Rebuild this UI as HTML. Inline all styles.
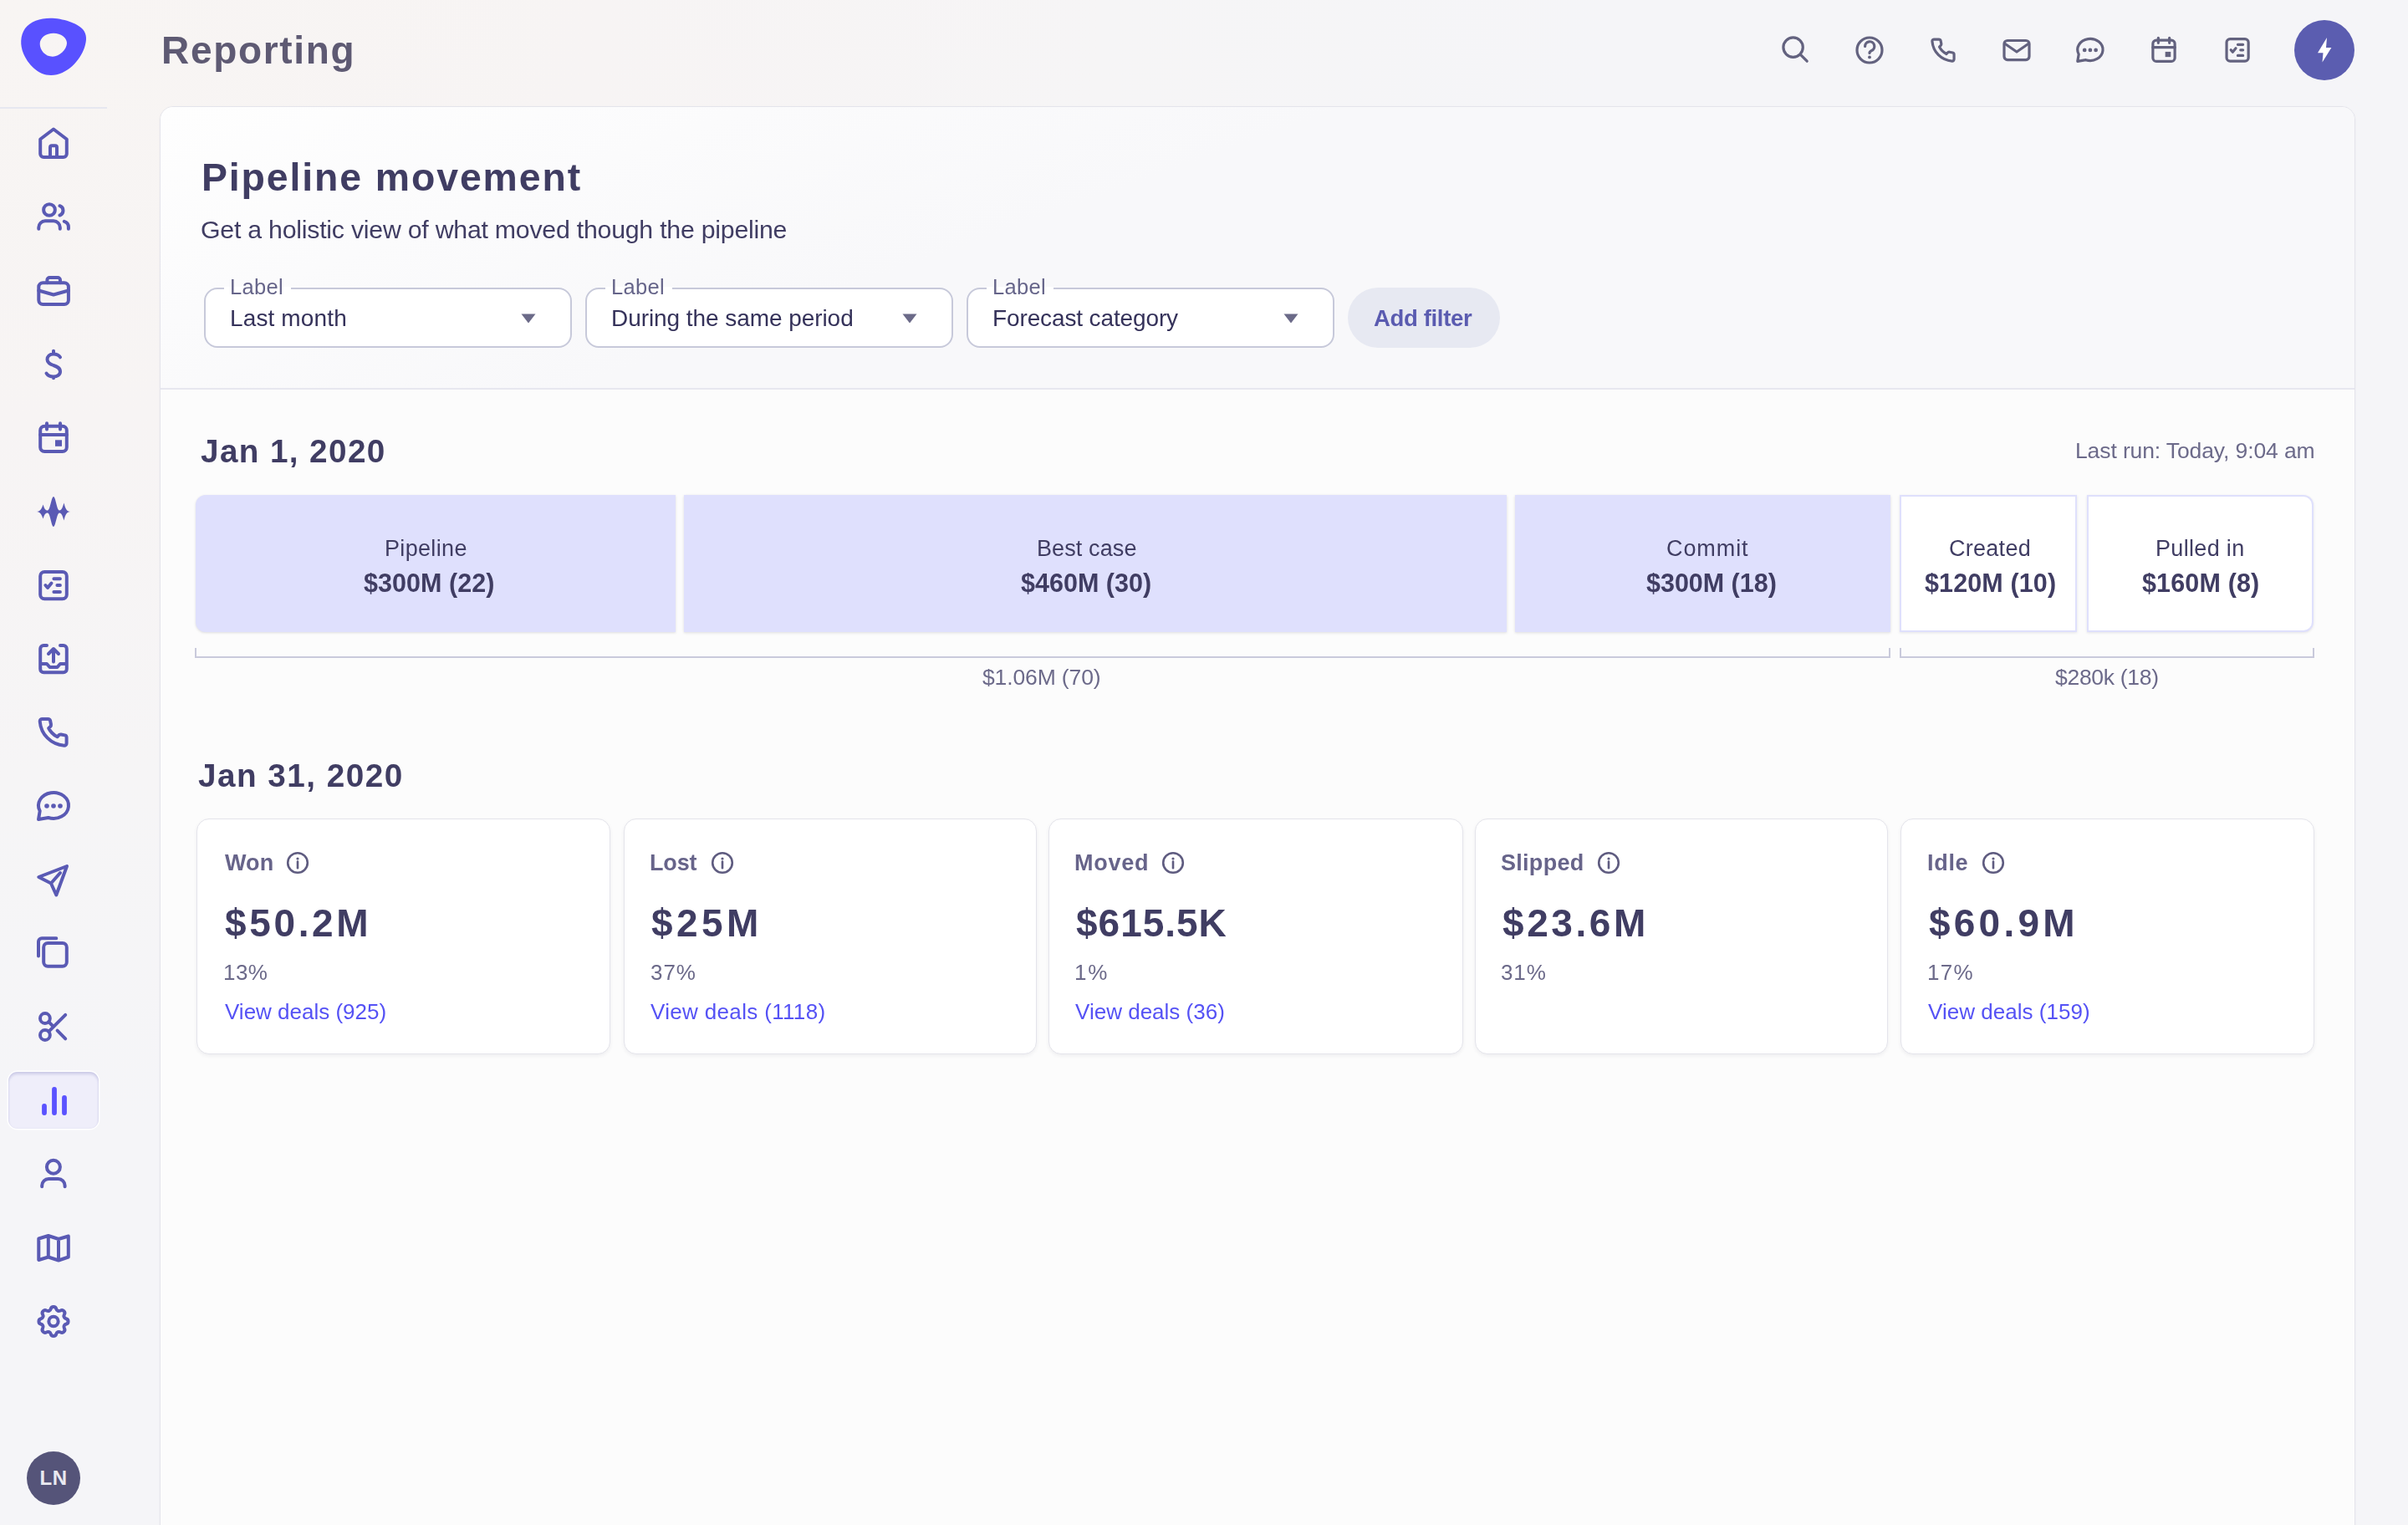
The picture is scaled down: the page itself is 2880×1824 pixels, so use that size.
<!DOCTYPE html>
<html><head><meta charset="utf-8"><style>
*{box-sizing:border-box;margin:0;padding:0}
html,body{width:2880px;height:1824px;overflow:hidden}
body{position:relative;font-family:"Liberation Sans", sans-serif;background:radial-gradient(ellipse 2400px 1700px at 0px 0px,#f8f5f3 0%,#f7f4f4 30%,#f6f5f6 55%,#f5f5f8 80%);}
.t{position:absolute;white-space:nowrap;will-change:transform}
#card{position:absolute;left:191px;top:127px;width:2626px;height:1760px;border-radius:16px;background:#fcfcfc;border:1px solid #e4e4eb;overflow:hidden;box-shadow:0 1px 3px rgba(40,40,80,.04)}
#hdr{position:absolute;left:0;top:0;right:0;height:338px;background:linear-gradient(160deg,#fefefe 0%,#f8f8fa 40%,#f8f8fa 100%);border-bottom:2px solid #e7e7ef}
.fbox{position:absolute;top:344px;width:440px;height:72px;border:2px solid #c7c9da;border-radius:16px;background:#fff}
.lgap{position:absolute;top:343px;width:80px;height:4px;background:#fff}
.tri{position:absolute}
#addbtn{position:absolute;left:1612px;top:344px;width:182px;height:72px;border-radius:36px;background:#e7e9f2}
.fb{position:absolute;top:592px;height:164px;background:#dfe0fd;box-shadow:0 1px 3px rgba(60,60,70,.16)}
.ob{position:absolute;top:592px;height:164px;background:#fff;border:2px solid #dfe0fc;box-shadow:0 1px 3px rgba(60,60,70,.12)}
.brk{position:absolute;height:12px;border:2px solid #c9cadb;border-top:none}
.sc{position:absolute;top:979px;height:282px;background:#fff;border:1px solid #e4e4eb;border-radius:15px;box-shadow:0 2px 4px rgba(50,50,80,.07)}
.ii{position:absolute}
#divl{position:absolute;left:0;top:128px;width:128px;height:2px;background:#e6e7f0}
#act{position:absolute;left:10px;top:1282px;width:108px;height:68px;border-radius:11px;background:#efeefa;box-shadow:inset 0 3px 3px rgba(90,90,170,.2),inset 0 0 2px rgba(90,90,170,.12),0 0 0 1.5px #fff}
#ln{position:absolute;left:32px;top:1736px;width:64px;height:64px;border-radius:50%;background:#555479;color:#e9e9f0;font-weight:700;font-size:24px;line-height:64px;text-align:center;letter-spacing:0.5px}
#bolt{position:absolute;left:2744px;top:24px;width:72px;height:72px;border-radius:50%;background:#5b5db0}
</style></head><body>
<div id="divl"></div>
<div id="card"><div id="hdr"></div></div>
<div class="fbox" style="left:244px"></div>
<div class="lgap" style="left:268px"></div>
<svg class="tri" style="left:622.6px;top:375px" width="18" height="12" viewBox="0 0 18 12"><path d="M0.5 0.5H17.5L9 11.5Z" fill="#6b6a88"/></svg>
<div class="fbox" style="left:700px"></div>
<div class="lgap" style="left:724px"></div>
<svg class="tri" style="left:1078.6px;top:375px" width="18" height="12" viewBox="0 0 18 12"><path d="M0.5 0.5H17.5L9 11.5Z" fill="#6b6a88"/></svg>
<div class="fbox" style="left:1156px"></div>
<div class="lgap" style="left:1180px"></div>
<svg class="tri" style="left:1534.6px;top:375px" width="18" height="12" viewBox="0 0 18 12"><path d="M0.5 0.5H17.5L9 11.5Z" fill="#6b6a88"/></svg>

<div id="addbtn"></div>
<div class="fb" style="left:234px;width:574px;border-radius:12px 0 0 12px"></div>
<div class="fb" style="left:818px;width:984px;border-radius:0"></div>
<div class="fb" style="left:1812px;width:448.5px;border-radius:0"></div>
<div class="ob" style="left:2272px;width:212px;border-radius:0"></div>
<div class="ob" style="left:2496px;width:271px;border-radius:0 12px 12px 0"></div>

<div class="brk" style="left:233px;top:775px;width:2027.5px"></div>
<div class="brk" style="left:2272px;top:775px;width:496px"></div>
<div class="sc" style="left:235.0px;width:495.3px"></div>
<svg class="ii" style="left:342.2px;top:1018px" width="28" height="28" viewBox="0 0 28 28"><circle cx="14" cy="14" r="11.8" fill="none" stroke="#5f5c80" stroke-width="2.6"/><circle cx="14" cy="9" r="1.6" fill="#5f5c80"/><path d="M14 12.6V20.2" stroke="#5f5c80" stroke-width="2.6" stroke-linecap="round"/></svg>
<div class="sc" style="left:745.7px;width:494.6px"></div>
<svg class="ii" style="left:850.1px;top:1018px" width="28" height="28" viewBox="0 0 28 28"><circle cx="14" cy="14" r="11.8" fill="none" stroke="#5f5c80" stroke-width="2.6"/><circle cx="14" cy="9" r="1.6" fill="#5f5c80"/><path d="M14 12.6V20.2" stroke="#5f5c80" stroke-width="2.6" stroke-linecap="round"/></svg>
<div class="sc" style="left:1253.5px;width:496.6px"></div>
<svg class="ii" style="left:1388.6px;top:1018px" width="28" height="28" viewBox="0 0 28 28"><circle cx="14" cy="14" r="11.8" fill="none" stroke="#5f5c80" stroke-width="2.6"/><circle cx="14" cy="9" r="1.6" fill="#5f5c80"/><path d="M14 12.6V20.2" stroke="#5f5c80" stroke-width="2.6" stroke-linecap="round"/></svg>
<div class="sc" style="left:1763.5px;width:494.7px"></div>
<svg class="ii" style="left:1909.8px;top:1018px" width="28" height="28" viewBox="0 0 28 28"><circle cx="14" cy="14" r="11.8" fill="none" stroke="#5f5c80" stroke-width="2.6"/><circle cx="14" cy="9" r="1.6" fill="#5f5c80"/><path d="M14 12.6V20.2" stroke="#5f5c80" stroke-width="2.6" stroke-linecap="round"/></svg>
<div class="sc" style="left:2273.2px;width:494.8px"></div>
<svg class="ii" style="left:2370.2px;top:1018px" width="28" height="28" viewBox="0 0 28 28"><circle cx="14" cy="14" r="11.8" fill="none" stroke="#5f5c80" stroke-width="2.6"/><circle cx="14" cy="9" r="1.6" fill="#5f5c80"/><path d="M14 12.6V20.2" stroke="#5f5c80" stroke-width="2.6" stroke-linecap="round"/></svg>

<div id="act"></div>
<div id="ln">LN</div>
<div id="bolt"></div>
<svg style="position:absolute;left:0;top:0" width="2880" height="1824" viewBox="0 0 2880 1824">
<path fill="#5951ff" fill-rule="evenodd" d="M60,21.8 C75,21.8 93,28 99,35 C104,41 104,48 101,57 C96,72 80,90 61,90 C45,90 33,76 28,64 C24,54 24,43 30,34 C36,26 48,21.8 60,21.8 Z M64,39.7 C73,39.7 80,45 80,51.5 C80,59 71,67.7 63,67.7 C54,67.7 47.7,60 47.7,52.5 C47.7,45 55,39.7 64,39.7 Z"/>
<g fill="none" stroke="#5a5ab4" stroke-width="4" stroke-linecap="round" stroke-linejoin="round">
<path d="M52.2,188 H75.8 A4,4 0 0 0 79.8,184 V166.5 L64,154.5 L48.2,166.5 V184 A4,4 0 0 0 52.2,188 Z M60,188 V176.2 A2,2 0 0 1 62,174.2 H66 A2,2 0 0 1 68,176.2 V188"/>
<circle cx="59" cy="251" r="6.85"/>
<path d="M46.3,273.7 V272 A7.7,7.7 0 0 1 54,264.3 H64.1 A7.7,7.7 0 0 1 71.8,272 V273.7 M71.5,246.2 A6,6 0 0 1 71.5,257.5 M76.8,264.8 A7,7 0 0 1 81.9,271.5 V273.7"/>
<rect x="46.3" y="338.2" width="35.6" height="25.8" rx="5"/>
<path d="M46.3,347.5 L64,352.5 L81.9,347.5 M56.4,338.2 V335 A3,3 0 0 1 59.4,332 H69 A3,3 0 0 1 72,335 V338.2"/>
<path d="M64,419.8 V423.5 M64,450.5 V452.3 M72,427.3 C70.5,424.8 67.5,423.5 64,423.5 C59,423.5 56.5,426.5 56.5,430 C56.5,434 60,435.5 64,437 C68.5,438.5 72,440 72,444.5 C72,448 68.5,450.5 64,450.5 C60,450.5 57,449 55.5,446.5"/>
<rect x="48.2" y="509.8" width="31.6" height="30.2" rx="5"/><path d="M48.2,520 H79.8 M56,506.3 V513.6 M72,506.3 V513.6"/><rect x="66" y="526.3" width="8" height="7.5" fill="#5a5ab4" stroke="none"/>
<rect x="48.2" y="684" width="31.6" height="32.2" rx="5"/><path d="M64.4,692.2 H71.9 M68.4,700 H71.9 M64.4,708 H71.9 M54.4,700 L57,703 L61.5,697.5"/>
<path d="M56,772 H52.2 A4,4 0 0 0 48.2,776 V800.2 A4,4 0 0 0 52.2,804.2 H75.8 A4,4 0 0 0 79.8,800.2 V776 A4,4 0 0 0 75.8,772 H72 M48.2,794 H56 L59.5,798 H68.5 L72,794 H79.8 M64,777 V791.5 M58,782 L64,776 L70,782"/>
<path d="M50.5,860 H57.5 C58.8,860 59.8,860.8 60.1,862 L61,866.5 C61.2,867.7 60.8,868.7 59.9,869.4 L58.2,871 C60.5,875.5 64,879 68.5,881.3 L70.1,879.6 C70.8,878.7 71.8,878.3 73,878.5 L77.6,879.4 C78.8,879.7 79.6,880.7 79.6,882 V889 C79.6,890.6 78.3,891.8 76.7,891.7 C61,890.5 49,878.5 47.7,862.8 C47.6,861.2 48.9,860 50.5,860 Z"/>
<path d="M47.7,970 L46,980 L57.8,978 A18,15.5 0 1 0 47.7,970 Z"/><circle cx="56" cy="964" r="2.8" fill="#5a5ab4" stroke="none"/><circle cx="64" cy="964" r="2.8" fill="#5a5ab4" stroke="none"/><circle cx="72" cy="964" r="2.8" fill="#5a5ab4" stroke="none"/>
<path d="M80,1036 L46.3,1049 L61,1056.5 L67.3,1070.5 Z M61,1056.5 L72,1044"/>
<path d="M46,1143.5 V1126.3 A4,4 0 0 1 50,1122.3 H67.3"/>
<rect x="52.2" y="1128" width="27.6" height="27.7" rx="5"/>
<circle cx="53.9" cy="1218" r="5.9"/><circle cx="53.9" cy="1238" r="5.9"/>
<path d="M58.2,1222.2 L63.5,1227.5 M58.2,1233.8 L78.2,1213.8 M68.6,1232.7 L78.2,1242.3"/>
<circle cx="63.9" cy="1395.8" r="8"/>
<path d="M50.2,1419.3 V1418 A8,8 0 0 1 58.2,1410 H69.6 A8,8 0 0 1 77.6,1418 V1419.3"/>
<path d="M46.3,1481.5 L57.8,1478 L70,1482 L81.8,1478.5 V1503.5 L70,1507.5 L57.8,1503.5 L46.3,1507 Z M57.8,1478 V1503.5 M70,1482 V1507.5"/>
<g transform="translate(40.6,1557.1) scale(1.95)" stroke-width="2.05"><path d="M10.325 4.317c.426 -1.756 2.924 -1.756 3.35 0a1.724 1.724 0 0 0 2.573 1.066c1.543 -.94 3.31 .826 2.37 2.37a1.724 1.724 0 0 0 1.065 2.572c1.756 .426 1.756 2.924 0 3.35a1.724 1.724 0 0 0 -1.066 2.573c.94 1.543 -.826 3.31 -2.37 2.37a1.724 1.724 0 0 0 -2.572 1.065c-.426 1.756 -2.924 1.756 -3.35 0a1.724 1.724 0 0 0 -2.573 -1.066c-1.543 .94 -3.31 -.826 -2.37 -2.37a1.724 1.724 0 0 0 -1.065 -2.572c-1.756 -.426 -1.756 -2.924 0 -3.35a1.724 1.724 0 0 0 1.066 -2.573c-.94 -1.543 .826 -3.31 2.37 -2.37c1 .608 2.296 .07 2.572 -1.065z"/><circle cx="12" cy="12" r="2.9"/></g>
</g>
<path fill="#5a5ab4" d="M44,612 C48,612 50,608 51.5,603.5 C53,608 54,610.5 57,610.5 C60,610.5 61.5,594 64,594 C66.5,594 68,610.5 71,610.5 C74,610.5 75,606 76.5,601.5 C78,608 80,612 84,612 C80,612 78,616 76.5,622.5 C75,618 74,613.5 71,613.5 C68,613.5 66.5,630 64,630 C61.5,630 60,613.5 57,613.5 C54,613.5 53,616 51.5,620.5 C50,616 48,612 44,612 Z"/>
<path d="M53,1323 V1331 M65,1303 V1331 M77,1313 V1331" stroke="#5a52ff" stroke-width="5.8" stroke-linecap="round"/>
<g fill="none" stroke="#63627f" stroke-width="3.2" stroke-linecap="round" stroke-linejoin="round">
<circle cx="2144.6" cy="56.6" r="11.7"/><path d="M2153.2,65.2 L2161.2,73.2"/>
<circle cx="2236" cy="60" r="15"/><path d="M2230.6,55.5 A5.6,5.6 0 1 1 2238.5,60.5 C2236.8,61.3 2236,62.2 2236,63.5"/><circle cx="2236" cy="68.4" r="1.9" fill="#63627f" stroke="none"/>
<g transform="translate(2324,60.05) scale(0.82) translate(-63.65,-875.85)" stroke-width="3.9"><path d="M50.5,860 H57.5 C58.8,860 59.8,860.8 60.1,862 L61,866.5 C61.2,867.7 60.8,868.7 59.9,869.4 L58.2,871 C60.5,875.5 64,879 68.5,881.3 L70.1,879.6 C70.8,878.7 71.8,878.3 73,878.5 L77.6,879.4 C78.8,879.7 79.6,880.7 79.6,882 V889 C79.6,890.6 78.3,891.8 76.7,891.7 C61,890.5 49,878.5 47.7,862.8 C47.6,861.2 48.9,860 50.5,860 Z"/></g>
<rect x="2397" y="48.5" width="30" height="23.1" rx="4"/><path d="M2397.5,52 L2412,62 L2426.5,52"/>
<g transform="translate(2499.9,59.9) scale(0.84) translate(-64,-964)" stroke-width="3.8"><path d="M47.7,970 L46,980 L57.8,978 A18,15.5 0 1 0 47.7,970 Z"/><circle cx="56" cy="964" r="2.8" fill="#63627f" stroke="none"/><circle cx="64" cy="964" r="2.8" fill="#63627f" stroke="none"/><circle cx="72" cy="964" r="2.8" fill="#63627f" stroke="none"/></g>
<g transform="translate(2588,59.3) scale(0.83) translate(-64,-523.15)" stroke-width="3.85"><rect x="48.2" y="509.8" width="31.6" height="30.2" rx="5"/><path d="M48.2,520 H79.8 M56,506.3 V513.6 M72,506.3 V513.6"/><rect x="66" y="526.3" width="8" height="7.5" fill="#63627f" stroke="none"/></g>
<g transform="translate(2676.1,59.9) scale(0.826) translate(-64,-700.1)" stroke-width="3.87"><rect x="48.2" y="684" width="31.6" height="32.2" rx="5"/><path d="M64.4,692.2 H71.9 M68.4,700 H71.9 M64.4,708 H71.9 M54.4,700 L57,703 L61.5,697.5"/></g>
</g>
<path fill="#fff" d="M2783,45 L2772,63.2 L2778.5,63.2 L2777.5,74.5 L2788.4,56.9 L2782,56.9 Z"/>
</svg>
<div class="t" id="reporting" style="left:192.80px;top:36.96px;font-size:46px;line-height:46px;color:#5e5a73;font-weight:700;letter-spacing:1.687px">Reporting</div>
<div class="t" id="title" style="left:240.80px;top:188.72px;font-size:46.4px;line-height:46.4px;color:#403d63;font-weight:700;letter-spacing:1.895px">Pipeline movement</div>
<div class="t" id="sub" style="left:240.44px;top:260.45px;font-size:30.3px;line-height:30.3px;color:#403d63;font-weight:400;letter-spacing:-0.243px">Get a holistic view of what moved though the pipeline</div>
<div class="t" id="lab0" style="left:275.10px;top:331.41px;font-size:25.5px;line-height:25.5px;color:#66658a;font-weight:400;letter-spacing:0.328px">Label</div>
<div class="t" id="val0" style="left:275.40px;top:366.60px;font-size:28px;line-height:28px;color:#35325a;font-weight:400;letter-spacing:0.131px">Last month</div>
<div class="t" id="lab1" style="left:731.10px;top:331.41px;font-size:25.5px;line-height:25.5px;color:#66658a;font-weight:400;letter-spacing:0.328px">Label</div>
<div class="t" id="val1" style="left:731.10px;top:366.60px;font-size:28px;line-height:28px;color:#35325a;font-weight:400;letter-spacing:-0.064px">During the same period</div>
<div class="t" id="lab2" style="left:1187.10px;top:331.41px;font-size:25.5px;line-height:25.5px;color:#66658a;font-weight:400;letter-spacing:0.328px">Label</div>
<div class="t" id="val2" style="left:1187.20px;top:366.60px;font-size:28px;line-height:28px;color:#35325a;font-weight:400;letter-spacing:-0.125px">Forecast category</div>
<div class="t" id="addf" style="left:1643.20px;top:366.52px;font-size:27.5px;line-height:27.5px;color:#5a5bb0;font-weight:700;letter-spacing:-0.343px">Add filter</div>
<div class="t" id="jan1" style="left:239.92px;top:521.34px;font-size:38.7px;line-height:38.7px;color:#403d63;font-weight:700;letter-spacing:1.385px">Jan 1, 2020</div>
<div class="t" id="jan31" style="left:236.58px;top:909.24px;font-size:38.7px;line-height:38.7px;color:#403d63;font-weight:700;letter-spacing:1.471px">Jan 31, 2020</div>
<div class="t" id="lastrun" style="left:2482.40px;top:526.07px;font-size:26.5px;line-height:26.5px;color:#6c6a8a;font-weight:400;letter-spacing:-0.114px">Last run: Today, 9:04 am</div>
<div class="t" id="bl0" style="left:460.40px;top:643.14px;font-size:27px;line-height:27px;color:#403d63;font-weight:400;letter-spacing:0.333px">Pipeline</div>
<div class="t" id="bv0" style="left:435.00px;top:682.18px;font-size:30.5px;line-height:30.5px;color:#403d63;font-weight:700;letter-spacing:0.059px">$300M (22)</div>
<div class="t" id="bl1" style="left:1240.40px;top:643.14px;font-size:27px;line-height:27px;color:#403d63;font-weight:400;letter-spacing:0.105px">Best case</div>
<div class="t" id="bv1" style="left:1221.20px;top:682.18px;font-size:30.5px;line-height:30.5px;color:#403d63;font-weight:700;letter-spacing:0.014px">$460M (30)</div>
<div class="t" id="bl2" style="left:1993.20px;top:643.14px;font-size:27px;line-height:27px;color:#403d63;font-weight:400;letter-spacing:0.920px">Commit</div>
<div class="t" id="bv2" style="left:1969.00px;top:682.18px;font-size:30.5px;line-height:30.5px;color:#403d63;font-weight:700;letter-spacing:-0.019px">$300M (18)</div>
<div class="t" id="bl3" style="left:2331.40px;top:643.14px;font-size:27px;line-height:27px;color:#403d63;font-weight:400;letter-spacing:0.275px">Created</div>
<div class="t" id="bv3" style="left:2301.50px;top:682.18px;font-size:30.5px;line-height:30.5px;color:#403d63;font-weight:700;letter-spacing:0.125px">$120M (10)</div>
<div class="t" id="bl4" style="left:2578.20px;top:643.14px;font-size:27px;line-height:27px;color:#403d63;font-weight:400;letter-spacing:0.329px">Pulled in</div>
<div class="t" id="bv4" style="left:2562.00px;top:682.18px;font-size:30.5px;line-height:30.5px;color:#403d63;font-weight:700;letter-spacing:0.149px">$160M (8)</div>
<div class="t" id="br1" style="left:1175.30px;top:797.37px;font-size:26.5px;line-height:26.5px;color:#6c6a8a;font-weight:400;letter-spacing:-0.128px">$1.06M (70)</div>
<div class="t" id="br2" style="left:2458.00px;top:797.47px;font-size:26.5px;line-height:26.5px;color:#6c6a8a;font-weight:400;letter-spacing:-0.288px">$280k (18)</div>
<div class="t" id="cl0" style="left:268.60px;top:1019.14px;font-size:27px;line-height:27px;color:#67648a;font-weight:700;letter-spacing:0.107px">Won</div>
<div class="t" id="cv0" style="left:268.90px;top:1081.16px;font-size:46px;line-height:46px;color:#403d63;font-weight:700;letter-spacing:3.634px">$50.2M</div>
<div class="t" id="cp0" style="left:267.30px;top:1149.69px;font-size:26px;line-height:26px;color:#6c6a8a;font-weight:400;letter-spacing:0.433px">13%</div>
<div class="t" id="cd0" style="left:268.80px;top:1197.49px;font-size:26px;line-height:26px;color:#5552f5;font-weight:400;letter-spacing:-0.006px">View deals (925)</div>
<div class="t" id="cl1" style="left:777.40px;top:1019.14px;font-size:27px;line-height:27px;color:#67648a;font-weight:700;letter-spacing:-0.164px">Lost</div>
<div class="t" id="cv1" style="left:779.20px;top:1081.16px;font-size:46px;line-height:46px;color:#403d63;font-weight:700;letter-spacing:4.444px">$25M</div>
<div class="t" id="cp1" style="left:777.60px;top:1149.69px;font-size:26px;line-height:26px;color:#6c6a8a;font-weight:400;letter-spacing:0.933px">37%</div>
<div class="t" id="cd1" style="left:778.40px;top:1197.49px;font-size:26px;line-height:26px;color:#5552f5;font-weight:400;letter-spacing:0.332px">View deals (1118)</div>
<div class="t" id="cl2" style="left:1285.40px;top:1019.14px;font-size:27px;line-height:27px;color:#67648a;font-weight:700;letter-spacing:0.772px">Moved</div>
<div class="t" id="cv2" style="left:1286.90px;top:1081.16px;font-size:46px;line-height:46px;color:#403d63;font-weight:700;letter-spacing:0.982px">$615.5K</div>
<div class="t" id="cp2" style="left:1285.40px;top:1149.69px;font-size:26px;line-height:26px;color:#6c6a8a;font-weight:400;letter-spacing:1.826px">1%</div>
<div class="t" id="cd2" style="left:1286.40px;top:1197.49px;font-size:26px;line-height:26px;color:#5552f5;font-weight:400;letter-spacing:0.012px">View deals (36)</div>
<div class="t" id="cl3" style="left:1795.20px;top:1019.14px;font-size:27px;line-height:27px;color:#67648a;font-weight:700;letter-spacing:0.282px">Slipped</div>
<div class="t" id="cv3" style="left:1797.00px;top:1081.16px;font-size:46px;line-height:46px;color:#403d63;font-weight:700;letter-spacing:3.554px">$23.6M</div>
<div class="t" id="cp3" style="left:1795.20px;top:1149.69px;font-size:26px;line-height:26px;color:#6c6a8a;font-weight:400;letter-spacing:0.883px">31%</div>
<div class="t" id="cl4" style="left:2305.40px;top:1019.14px;font-size:27px;line-height:27px;color:#67648a;font-weight:700;letter-spacing:0.697px">Idle</div>
<div class="t" id="cv4" style="left:2306.90px;top:1081.16px;font-size:46px;line-height:46px;color:#403d63;font-weight:700;letter-spacing:4.214px">$60.9M</div>
<div class="t" id="cp4" style="left:2304.80px;top:1149.69px;font-size:26px;line-height:26px;color:#6c6a8a;font-weight:400;letter-spacing:1.333px">17%</div>
<div class="t" id="cd4" style="left:2306.40px;top:1197.49px;font-size:26px;line-height:26px;color:#5552f5;font-weight:400;letter-spacing:0.034px">View deals (159)</div>
</body></html>
